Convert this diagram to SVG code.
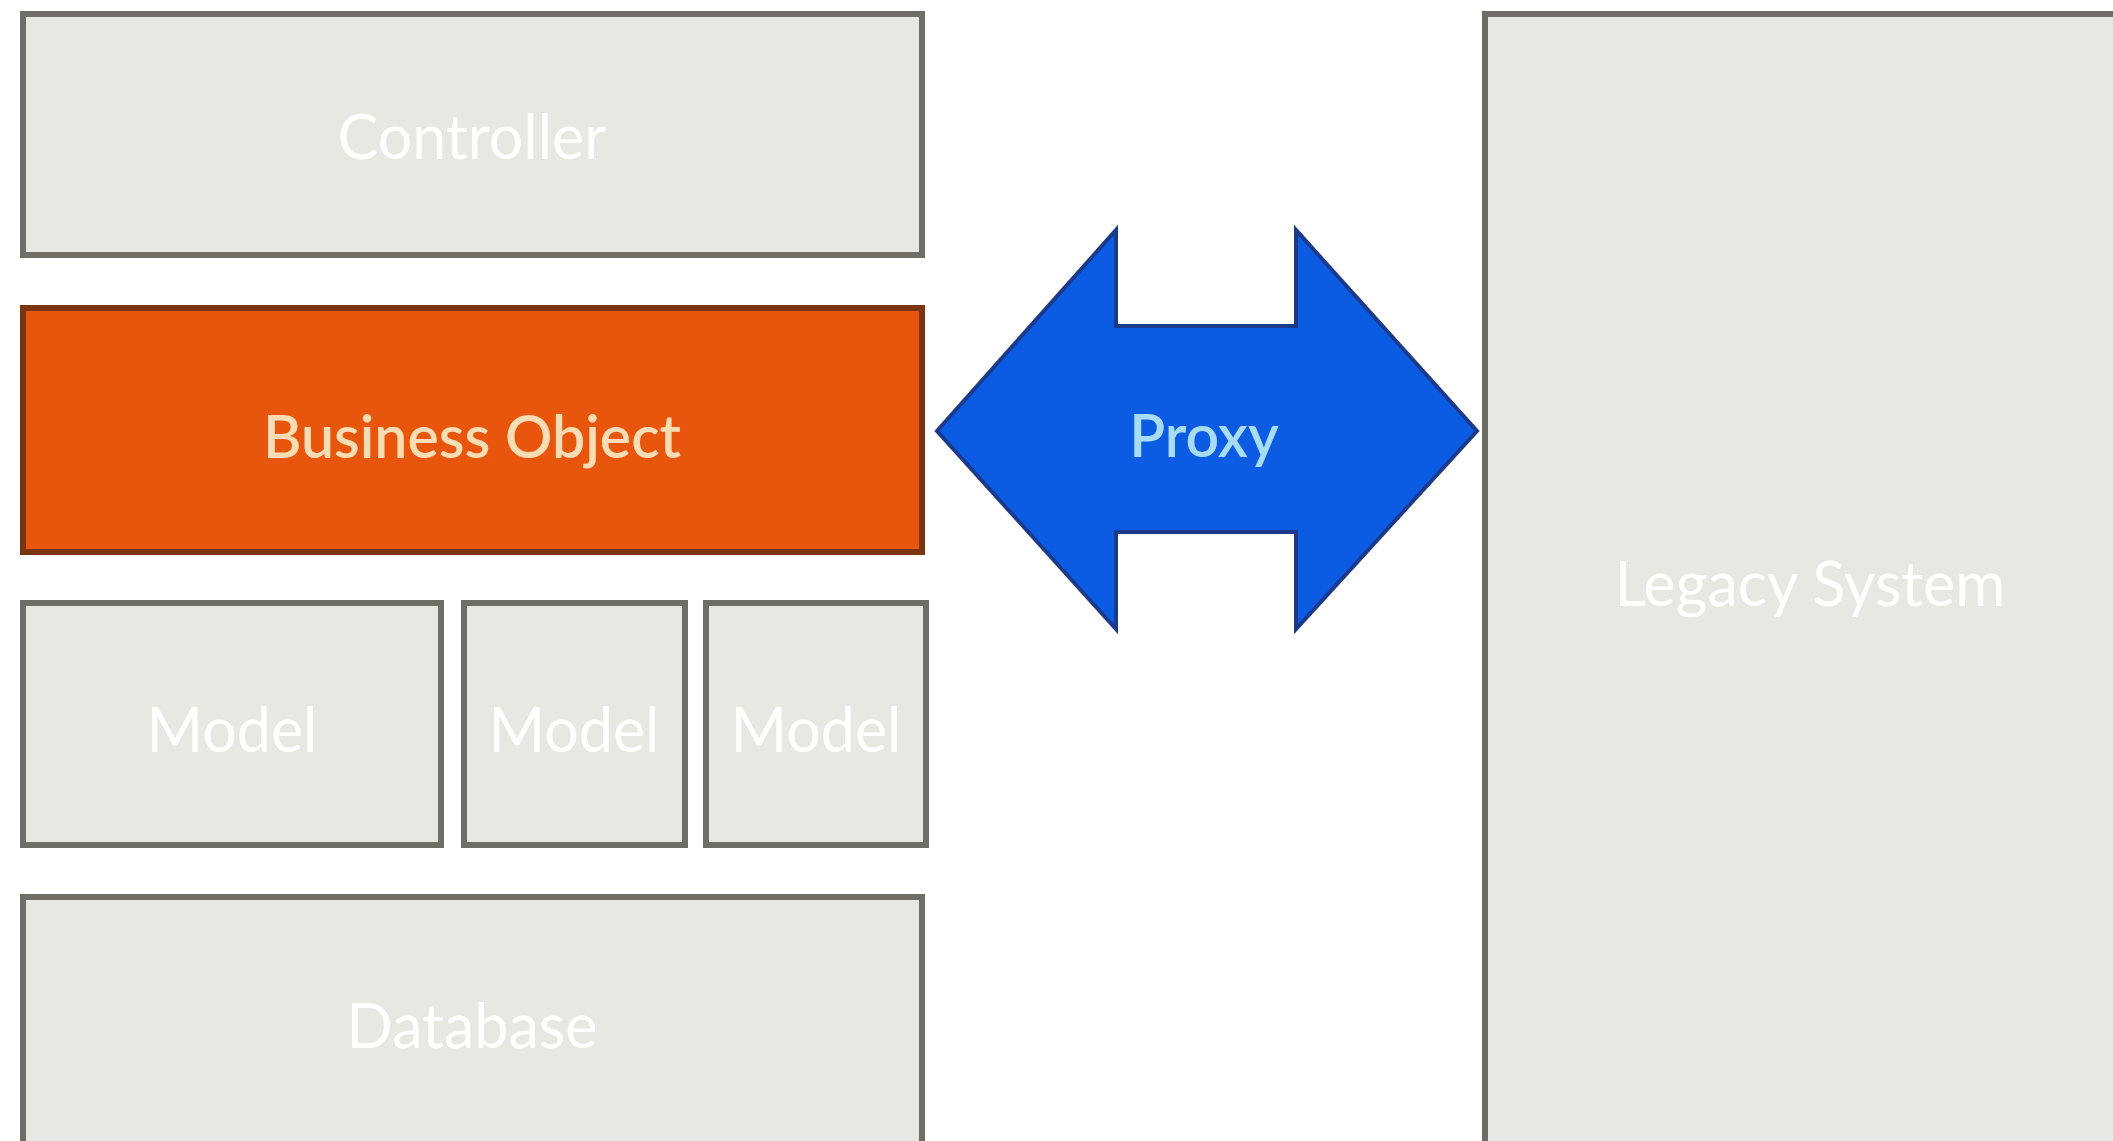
<svg xmlns="http://www.w3.org/2000/svg" width="2113" height="1141" viewBox="0 0 2113 1141">
<style>
.box{fill:#e6e8e1;stroke:#6e6e66;stroke-width:6}
.lbl{font-family:Lato,"Open Sans","Liberation Sans",sans-serif;font-size:61px;fill:#ffffff;text-anchor:middle;dominant-baseline:central}
.bo{fill:#e8550c;stroke:#7a3410;stroke-width:6}
.bolbl{fill:#f8dcb4;font-weight:600;font-size:59px}
.arrow{fill:#0b5ce2;stroke:#1b3a8c;stroke-width:4;stroke-linejoin:miter}
.plbl{fill:#a8dcf4;font-weight:600;font-size:59px}
</style>
<rect width="2113" height="1141" fill="#ffffff"/>
<g id="controller">
<rect class="box" x="23" y="14" width="899" height="241"/>
<text class="lbl" x="472" y="135">Controller</text>
</g>
<g id="business-object">
<rect class="bo" x="23" y="308" width="899" height="244"/>
<text class="lbl bolbl" x="472" y="435">Business Object</text>
</g>
<g id="model-1">
<rect class="box" x="23" y="603" width="418" height="242"/>
<text class="lbl" x="232" y="728">Model</text>
</g>
<g id="model-2">
<rect class="box" x="464" y="603" width="221" height="242"/>
<text class="lbl" x="574" y="728">Model</text>
</g>
<g id="model-3">
<rect class="box" x="706" y="603" width="220" height="242"/>
<text class="lbl" x="816" y="728">Model</text>
</g>
<g id="database">
<rect class="box" x="23" y="897" width="899" height="260"/>
<text class="lbl" x="472" y="1024">Database</text>
</g>
<g id="legacy-system">
<rect class="box" x="1485" y="14" width="650" height="1150"/>
<text class="lbl" x="1810" y="582">Legacy System</text>
</g>
<g id="connectors">
<g id="proxy">
<polygon class="arrow" points="937,431 1116,230 1116,326 1296,326 1296,230 1477,431 1296,629 1296,532 1116,532 1116,629"/>
<text class="lbl plbl" x="1204" y="434">Proxy</text>
</g>
</g>
</svg>
